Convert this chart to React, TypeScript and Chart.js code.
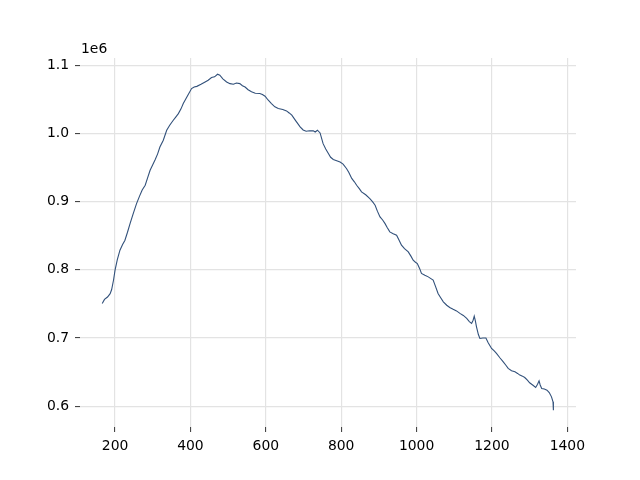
import React, { useEffect, useRef } from "react";
import { Chart, registerables } from "chart.js";

Chart.register(...registerables);

const X_VALUES = [
  166, 172, 180, 187, 191, 196, 200, 206, 213, 220, 226, 233, 240, 248, 257, 265, 272, 280, 287, 293,
  300, 306, 313, 319, 328, 337, 345, 354, 361, 368, 375, 381, 392, 403, 410, 417, 428, 439, 447, 456,
  464, 472, 478, 486, 496, 505, 514, 522, 531, 538, 545, 553, 562, 572, 584, 591, 598, 606, 615, 624,
  633, 645, 655, 662, 669, 680, 691, 699, 707, 716, 726, 731, 737, 744, 752, 759, 766, 772, 779, 788,
  797, 805, 814, 820, 828, 835, 841, 848, 854, 865, 876, 883, 890, 896, 903, 910, 916, 922, 929, 938,
  947, 953, 960, 968, 978, 985, 991, 997, 1002, 1008, 1013, 1022, 1031, 1038, 1044, 1050, 1057, 1064,
  1071, 1080, 1088, 1097, 1106, 1115, 1124, 1133, 1140, 1146, 1150, 1153, 1156, 1159, 1164, 1168, 1176,
  1184, 1190, 1199, 1206, 1212, 1221, 1230, 1237, 1243, 1252, 1261, 1268, 1274, 1281, 1287, 1294, 1300,
  1308, 1316, 1321, 1325, 1328, 1332, 1339, 1346, 1352, 1358, 1362, 1363,
];

const Y_VALUES = [
  750600, 756500, 760000, 765000, 771000, 785000, 799400, 815000, 828700, 837000, 843000, 855000, 868000,
  882000, 897000, 908000, 917000, 924000, 936000, 946000, 954000, 961000, 970000, 980000, 990000, 1004700,
  1012000, 1019000, 1024000, 1029000, 1036000, 1043800, 1055000, 1065800, 1068000, 1069000, 1072000,
  1075500, 1078000, 1082000, 1083000, 1086800, 1085300, 1080000, 1075500, 1073000, 1072100, 1074000,
  1073000, 1070000, 1068000, 1064000, 1061000, 1059000, 1058500, 1057000, 1054500, 1049000, 1043800,
  1039000, 1036500, 1035000, 1033000, 1030000, 1026700, 1018000, 1009500, 1005000, 1003200, 1004000,
  1003700, 1002000, 1004700, 1000700, 985000, 977000, 970500, 965000, 961700, 960000, 958000, 955000,
  948500, 943000, 934000, 929000, 924000, 919000, 914200, 910000, 904500, 900000, 894700, 886000, 877600,
  873000, 868000, 862000, 855600, 853000, 850700, 844000, 836000, 831000, 826200, 820000, 814000, 811000,
  809200, 802000, 794600, 792000, 789600, 787000, 784800, 776000, 765200, 759000, 753000, 748000, 744700,
  742000, 739700, 736000, 733000, 728600, 724000, 721300, 726000, 732000, 725000, 716300, 705000, 699300,
  700000, 700000, 693000, 684600, 681000, 677300, 671000, 665000, 660000, 655300, 652000, 650300, 648000,
  645500, 644000, 642000, 638000, 634200, 631000, 627400, 632000, 637100, 631000, 626000, 625000, 623500,
  620000, 613600, 606300, 594100,
];

const X_TICKS = [200, 400, 600, 800, 1000, 1200, 1400];
const Y_TICKS = [600000, 700000, 800000, 900000, 1000000, 1100000];
const OFFSET_LABEL = "1e6";

const FONT = "'DejaVu Sans', sans-serif";

export default function App() {
  const ref = useRef<HTMLCanvasElement>(null);

  useEffect(() => {
    document.body.style.margin = "0";
    const canvas = ref.current;
    if (!canvas) return;

    const offsetPlugin = {
      id: "offsetLabel",
      afterDraw(chart: any) {
        const ctx = chart.ctx;
        ctx.save();
        ctx.font = `13.9px ${FONT}`;
        ctx.fillStyle = "#000";
        ctx.textAlign = "left";
        ctx.textBaseline = "alphabetic";
        ctx.fillText(OFFSET_LABEL, chart.chartArea.left + 1, chart.chartArea.top - 5);
        ctx.restore();
      },
    };

    const chart = new Chart(canvas, {
      type: "line",
      data: {
        datasets: [
          {
            data: X_VALUES.map((x, i) => ({ x, y: Y_VALUES[i] })),
            borderColor: "#31507a",
            borderWidth: 1.1,
            pointRadius: 0,
            tension: 0,
            fill: false,
          },
        ],
      },
      options: {
        responsive: false,
        animation: false,
        events: [],
        layout: { padding: { left: 0, top: 58, right: 64, bottom: 0 } },
        plugins: { legend: { display: false }, tooltip: { enabled: false } },
        scales: {
          x: {
            type: "linear",
            min: 107,
            max: 1423,
            afterFit: (s: any) => {
              s.height = 53;
            },
            afterBuildTicks: (s: any) => {
              s.ticks = X_TICKS.map((v) => ({ value: v }));
            },
            border: { display: false },
            grid: {
              color: "#e3e3e3",
              lineWidth: 1.2,
              tickColor: "#333",
              tickLength: 5,
              tickWidth: 1,
            },
            ticks: {
              color: "#000",
              font: { family: FONT, size: 13.9 },
              padding: 6,
              maxRotation: 0,
              autoSkip: false,
              callback: (v: any) => String(v),
            },
          },
          y: {
            type: "linear",
            min: 569400,
            max: 1110600,
            afterFit: (s: any) => {
              s.width = 80;
            },
            afterBuildTicks: (s: any) => {
              s.ticks = Y_TICKS.map((v) => ({ value: v }));
            },
            border: { display: false },
            grid: {
              color: "#e3e3e3",
              lineWidth: 1.2,
              tickColor: "#333",
              tickLength: 5,
              tickWidth: 1,
            },
            ticks: {
              color: "#000",
              font: { family: FONT, size: 13.9 },
              padding: 6,
              autoSkip: false,
              callback: (v: any) => (Number(v) / 1e6).toFixed(1),
            },
          },
        },
      },
      plugins: [offsetPlugin],
    });

    return () => chart.destroy();
  }, []);

  return (
    <div style={{ width: 640, height: 480 }}>
      <canvas ref={ref} width={640} height={480} style={{ display: "block" }} />
    </div>
  );
}
